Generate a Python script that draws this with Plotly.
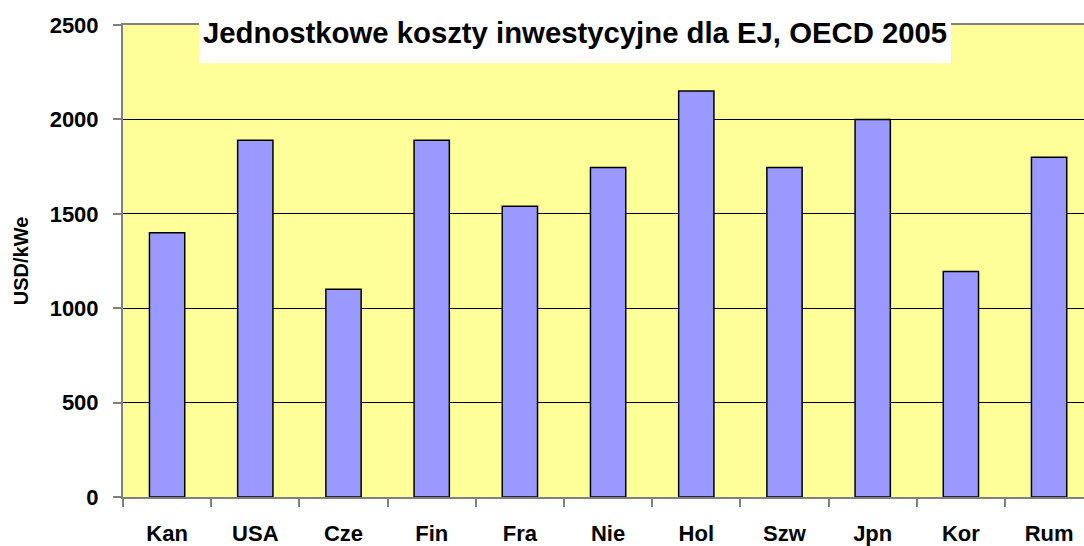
import plotly.graph_objects as go

categories = ["Kan", "USA", "Cze", "Fin", "Fra", "Nie", "Hol", "Szw", "Jpn", "Kor", "Rum"]
values = [1400, 1890, 1100, 1890, 1540, 1745, 2150, 1745, 2000, 1195, 1800]
y_ticks = [0, 500, 1000, 1500, 2000, 2500]
title_text = "Jednostkowe koszty inwestycyjne dla EJ, OECD 2005"
y_title = "USD/kWe"

FONT = "Liberation Sans, Arial, sans-serif"

fig = go.Figure(go.Bar(
    x=categories, y=values, width=0.4,
    marker=dict(color="#9999FF", line=dict(color="#000000", width=1.5)),
))

W, H = 1110, 546
L, T = 123, 25
B = H - 497
ph = H - T - B
CAT_W = 88.2

def py(p):
    return (H - B - p) / ph

def px(p):
    return (p - L) / (W - L)

fig.update_layout(
    width=W, height=H,
    margin=dict(l=L, r=0, t=T, b=B),
    paper_bgcolor="white", plot_bgcolor="#FFFF99",
    showlegend=False,
    font=dict(family=FONT, color="black"),
    xaxis=dict(
        range=[-0.5, -0.5 + (W - L) / CAT_W], type="category",
        showline=True, linecolor="#808080", linewidth=2, mirror=True,
        ticks="outside", tickson="boundaries", ticklen=8, tickcolor="#808080", tickwidth=1.5,
        ticklabelstandoff=16,
        tickfont=dict(size=22, family=FONT, color="black", weight="bold"),
        showgrid=False, fixedrange=True,
    ),
    yaxis=dict(
        range=[0, 2500], tickvals=y_ticks,
        showline=True, linecolor="#808080", linewidth=2,
        ticks="outside", ticklen=8, tickcolor="#808080", tickwidth=1.5,
        ticklabelstandoff=10,
        tickfont=dict(size=22, family=FONT, color="black", weight="bold"),
        showgrid=True, gridcolor="#000000", gridwidth=1,
        zeroline=False,
        title=dict(text="<b>" + y_title + "</b>", font=dict(size=20, family=FONT), standoff=16),
    ),
    shapes=[dict(
        type="rect", xref="paper", yref="paper",
        x0=px(199), x1=px(951),
        y0=py(63.3), y1=py(0),
        fillcolor="white", line=dict(width=0), layer="above",
    )],
    annotations=[dict(
        text="<b>" + title_text + "</b>", xref="paper", yref="paper",
        x=px(575), y=py(33), xanchor="center", yanchor="middle",
        showarrow=False, font=dict(size=29.3, family=FONT, color="black"),
    )],
)

fig.write_html(
    "out.html",
    config={"displayModeBar": False},
    post_script="document.body.style.margin='0';document.body.style.overflow='hidden';document.documentElement.style.overflow='hidden';",
)
